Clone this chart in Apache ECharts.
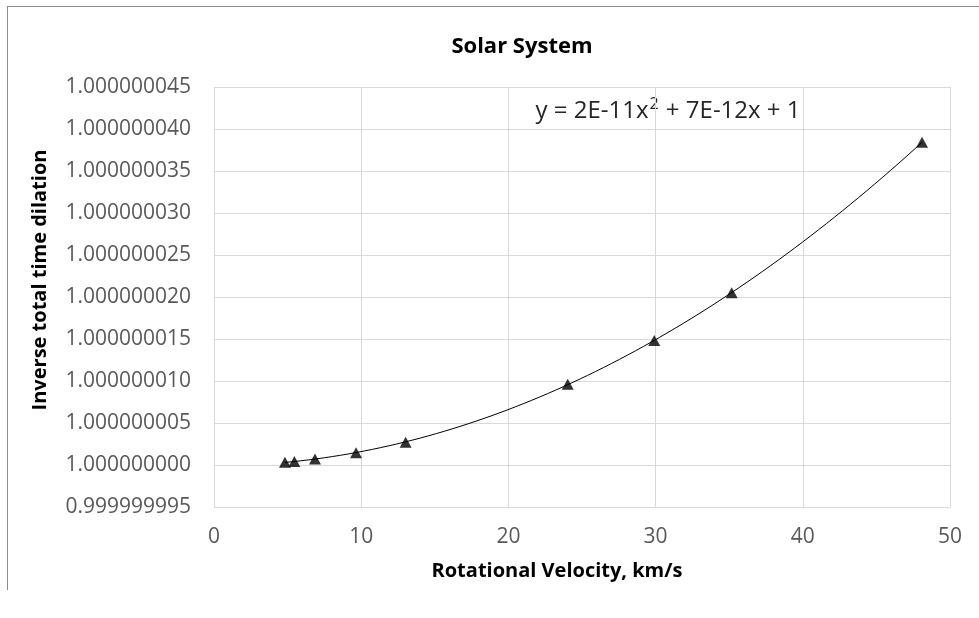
<!DOCTYPE html>
<html>
<head>
<meta charset="utf-8">
<script src="https://cdn.jsdelivr.net/npm/echarts@6/dist/echarts.min.js"></script>
<style>
  html, body { margin: 0; padding: 0; background: #fff; }
  #chart { width: 979px; height: 618px; }
</style>
</head>
<body>
<div id="chart"></div>
<script>
// Rotational velocity (km/s) of each body
const velocities = [4.82, 5.46, 6.86, 9.65, 13.02, 24.03, 29.91, 35.17, 48.1];
// Inverse total time dilation
const dilation = [1.00000000032, 1.00000000042, 1.00000000071, 1.00000000147, 1.00000000272,
                  1.00000000962, 1.00000001483, 1.00000002050, 1.00000003842];
// Y tick values (offset from 1, in units of 1e-9) and X ticks
const yTicksNano = [-5, 0, 5, 10, 15, 20, 25, 30, 35, 40, 45];
const xTicks = [0, 10, 20, 30, 40, 50];
const titleText = 'Solar System';
const xTitle = 'Rotational Velocity, km/s';
const yTitle = 'Inverse total time dilation';
const equationParts = ['y = 2E-11x', '2', ' + 7E-12x + 1'];

// Plot as offsets from 1 in units of 1e-9 to keep the axis numerically stable
const offsets = dilation.map(v => (v - 1) * 1e9);
const points = velocities.map((x, i) => [x, offsets[i]]);

// Least-squares quadratic trendline fitted to the data
function quadFit(xs, ys) {
  let s0 = 0, s1 = 0, s2 = 0, s3 = 0, s4 = 0, t0 = 0, t1 = 0, t2 = 0;
  for (let i = 0; i < xs.length; i++) {
    const x = xs[i], y = ys[i];
    s0 += 1; s1 += x; s2 += x * x; s3 += x * x * x; s4 += x * x * x * x;
    t0 += y; t1 += x * y; t2 += x * x * y;
  }
  const M = [[s4, s3, s2, t2], [s3, s2, s1, t1], [s2, s1, s0, t0]];
  for (let c = 0; c < 3; c++) {
    for (let r = c + 1; r < 3; r++) {
      const f = M[r][c] / M[c][c];
      for (let k = c; k < 4; k++) M[r][k] -= f * M[c][k];
    }
  }
  const sol = [0, 0, 0];
  for (let r = 2; r >= 0; r--) {
    let s = M[r][3];
    for (let k = r + 1; k < 3; k++) s -= M[r][k] * sol[k];
    sol[r] = s / M[r][r];
  }
  return sol; // a, b, c
}
const [qa, qb, qc] = quadFit(velocities, offsets);
const xMin = Math.min(...velocities), xMax = Math.max(...velocities);
const trend = [];
const steps = 80;
for (let i = 0; i <= steps; i++) {
  const x = xMin + (xMax - xMin) * i / steps;
  trend.push([x, qa * x * x + qb * x + qc]);
}

const FONT = '"Open Sans", "Noto Sans", sans-serif';
const chart = echarts.init(document.getElementById('chart'), null, { renderer: 'canvas' });
chart.setOption({
  animation: false,
  backgroundColor: '#ffffff',
  grid: { left: 214, right: 29, top: 87, bottom: 111, containLabel: false },
  xAxis: {
    type: 'value',
    min: xTicks[0], max: xTicks[xTicks.length - 1], interval: 10,
    axisLine: { show: false },
    axisTick: { show: false },
    splitLine: { show: true, lineStyle: { color: '#d9d9d9', width: 1 } },
    axisLabel: { color: '#595959', fontFamily: FONT, fontSize: 21, margin: 20 }
  },
  yAxis: {
    type: 'value',
    min: yTicksNano[0], max: yTicksNano[yTicksNano.length - 1], interval: 5,
    axisLine: { show: false },
    axisTick: { show: false },
    splitLine: { show: true, lineStyle: { color: '#d9d9d9', width: 1 } },
    axisLabel: {
      color: '#595959', fontFamily: FONT, fontSize: 21, margin: 23,
      formatter: v => (1 + v * 1e-9).toFixed(9)
    }
  },
  series: [
    {
      type: 'line',
      data: trend,
      showSymbol: false,
      smooth: false,
      lineStyle: { color: '#000000', width: 1 },
      z: 2,
      silent: true
    },
    {
      type: 'scatter',
      data: points,
      symbol: 'triangle',
      symbolSize: [12, 11],
      itemStyle: { color: '#000000' },
      z: 3
    }
  ],
  graphic: [
    { type: 'line', shape: { x1: 7, y1: 6.5, x2: 979, y2: 6.5 }, style: { stroke: '#8c8c8c', lineWidth: 1 } },
    { type: 'line', shape: { x1: 7.5, y1: 6, x2: 7.5, y2: 590 }, style: { stroke: '#8c8c8c', lineWidth: 1 } },
    { type: 'text', x: 522, y: 47,
      style: { text: titleText, font: 'bold 22px ' + FONT, fill: '#000000', align: 'center', verticalAlign: 'middle' } },
    { type: 'text', x: 668, y: 108,
      style: {
        text: '{n|' + equationParts[0] + '}{s|' + equationParts[1] + '}{n|' + equationParts[2] + '}',
        align: 'center', verticalAlign: 'middle',
        rich: {
          n: { fontFamily: FONT, fontSize: 24, fill: '#262626', lineHeight: 30, verticalAlign: 'bottom' },
          s: { fontFamily: FONT, fontSize: 16, fill: '#262626', lineHeight: 16, verticalAlign: 'top', padding: [3, 1, 0, 1] }
        }
      } },
    { type: 'text', x: 557, y: 571,
      style: { text: xTitle, font: 'bold 20px ' + FONT, fill: '#000000', align: 'center', verticalAlign: 'middle' } },
    { type: 'text', x: 40, y: 280, rotation: Math.PI / 2,
      style: { text: yTitle, font: 'bold 20px ' + FONT, fill: '#000000', align: 'center', verticalAlign: 'middle' } }
  ]
});
</script>
</body>
</html>
